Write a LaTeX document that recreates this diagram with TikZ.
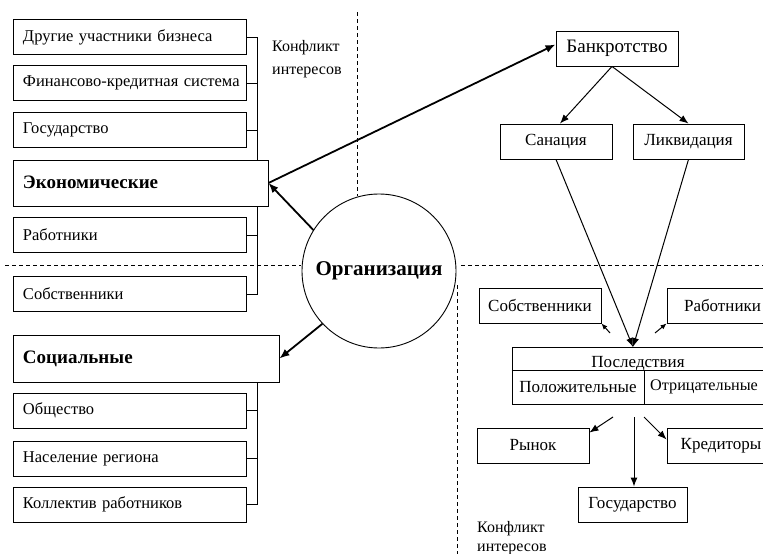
\documentclass[tikz,border=0pt]{standalone}
\usepackage{fontspec}
\setmainfont{Liberation Serif}
\usetikzlibrary{arrows.meta}

\begin{document}
\begin{tikzpicture}[x=1pt,y=-1pt,
  box/.style={draw, line width=0.9pt, fill=white, inner sep=0pt, minimum height=35pt, font=\fontsize{17}{20}\selectfont},
  leftbox/.style={box, text width=213pt, inner xsep=10pt, align=left, font=\fontsize{16.5}{20}\selectfont},
  headbox/.style={box, font=\bfseries\fontsize{19}{22}\selectfont, align=left, inner xsep=10pt},
  plain/.style={inner sep=0pt, font=\fontsize{17}{20}\selectfont},
  note/.style={inner sep=0pt, align=left, font=\fontsize{16}{23}\selectfont},
  busline/.style={line width=0.9pt},
  dashline/.style={line width=0.8pt, dash pattern=on 4pt off 3pt},
  arr/.style={line width=1pt, -{Latex[length=9pt,width=7pt]}},
  smallarr/.style={line width=1pt, -{Latex[length=6pt,width=5pt]}},
  thickarr/.style={line width=1.8pt, -{Latex[length=10pt,width=8pt]}}]
%\draw[step=50pt,gray,very thin] (0,0) grid (763,554);

\clip (0,0) rectangle (763,554);

\draw[dashline] (357,12) -- (357,196);
\draw[dashline] (5,265) -- (301,265);
\draw[dashline] (461,265) -- (763,265);
\draw[dashline] (457,285) -- (457,554);

\coordinate (bus) at (257,0);

% left column
\node[leftbox] (other) at (129.5,37) {Другие участники бизнеса};
\node[leftbox] (fin) at (129.5,83) {\mbox{Финансово-кредитная система}};
\node[leftbox] (gov) at (129.5,130) {Государство};
\node[leftbox] (workers) at (129.5,235) {Работники};
\node[leftbox] (owners) at (129.5,294) {Собственники};

\draw[busline] (other.east) -| (owners.east -| bus) -- (owners.east);
\foreach \n in {fin,gov,workers}
  \draw[busline] (\n.east) -- (\n.east -| bus);

\node[headbox, text width=235pt, minimum height=46pt] (econ) at (140.5,183) {\raisebox{2pt}{Экономические}};

\node[note, anchor=north west] (conf1) at (272,40) {Конфликт\\интересов};

\node[headbox, text width=246pt, minimum height=47pt] (social) at (146,358.5) {\raisebox{2pt}{Социальные}};
\node[leftbox] (society) at (129.5,410.5) {Общество};
\node[leftbox] (population) at (129.5,458.5) {Население региона};
\node[leftbox] (staff) at (129.5,504.5) {Коллектив работников};

\draw[busline] (social.south -| bus) |- (staff.east);
\foreach \n in {society,population}
  \draw[busline] (\n.east) -- (\n.east -| bus);

\node[circle, draw, line width=0.9pt, inner sep=0pt, minimum size=154pt,
  font=\bfseries\fontsize{21}{25}\selectfont] (org) at (379,271) {Организация};

% right side
\node[box, minimum width=122pt, font=\fontsize{19}{22}\selectfont] (bankr) at (617,48.5) {Банкротство};
\node[box, minimum width=112pt] (sanation) at (556,141.5) {Санация};
\node[box, minimum width=111pt] (liquid) at (688.5,141.5) {Ликвидация};

\node[box, minimum width=122pt] (ownersR) at (540,305.5) {Собственники};
\node[box, minimum width=111pt] (workersR) at (722.5,305.5) {Работники};

\node[box, minimum width=264pt, minimum height=57pt] (conseq) at (644,375.5) {};
\draw[busline] ([yshift=5.5pt]conseq.west) -- ([yshift=5.5pt]conseq.east);
\draw[busline] ([yshift=5.5pt]conseq.center) -- (conseq.south);
\node[plain] (title) at (638,364) {Последствия};
\node[plain] (pos) at (578,387) {Положительные};
\node[plain, anchor=west, font=\fontsize{16.2}{20}\selectfont] (neg) at (650,387) {Отрицательные};

\node[box, minimum width=112pt] (market) at (533,445.5) {Рынок};
\node[box, minimum width=108pt] (creditors) at (721,445.5) {Кредиторы};
\node[box, minimum width=109pt] (govR) at (632.5,504.5) {Государство};

\node[note, font=\fontsize{16}{19}\selectfont, anchor=north west] (conf2) at (477,521) {Конфликт\\интересов};

% arrows
\draw[thickarr] (org.148) -- (econ.east);
\draw[thickarr] (econ.east) -- ([yshift=4pt]bankr.west);
\draw[thickarr] (org.223) -- (social.east);

\draw[arr] ([xshift=-5pt]bankr.south) -- ([xshift=4pt]sanation.north);
\draw[arr] ([xshift=-5pt]bankr.south) -- (liquid.north);

\coordinate (meet) at (633,347);
\draw[arr] (sanation.south) -- (meet);
\draw[arr] (liquid.south) -- (meet);

\coordinate (otail) at (610,333);
\coordinate (wtail) at (655,333);
\draw[smallarr] (otail) -- (ownersR.south east);
\draw[smallarr] (wtail) -- (workersR.south west);

\coordinate (mtail) at (613,417);
\coordinate (gtail) at (634,417);
\coordinate (ctail) at (644,417);
\draw[arr] (mtail) -- ([yshift=-5pt]market.north east);
\draw[arr] (gtail) -- (gtail |- govR.north);
\draw[arr] (ctail) -- ([yshift=6pt]creditors.west);

\end{tikzpicture}
\end{document}
